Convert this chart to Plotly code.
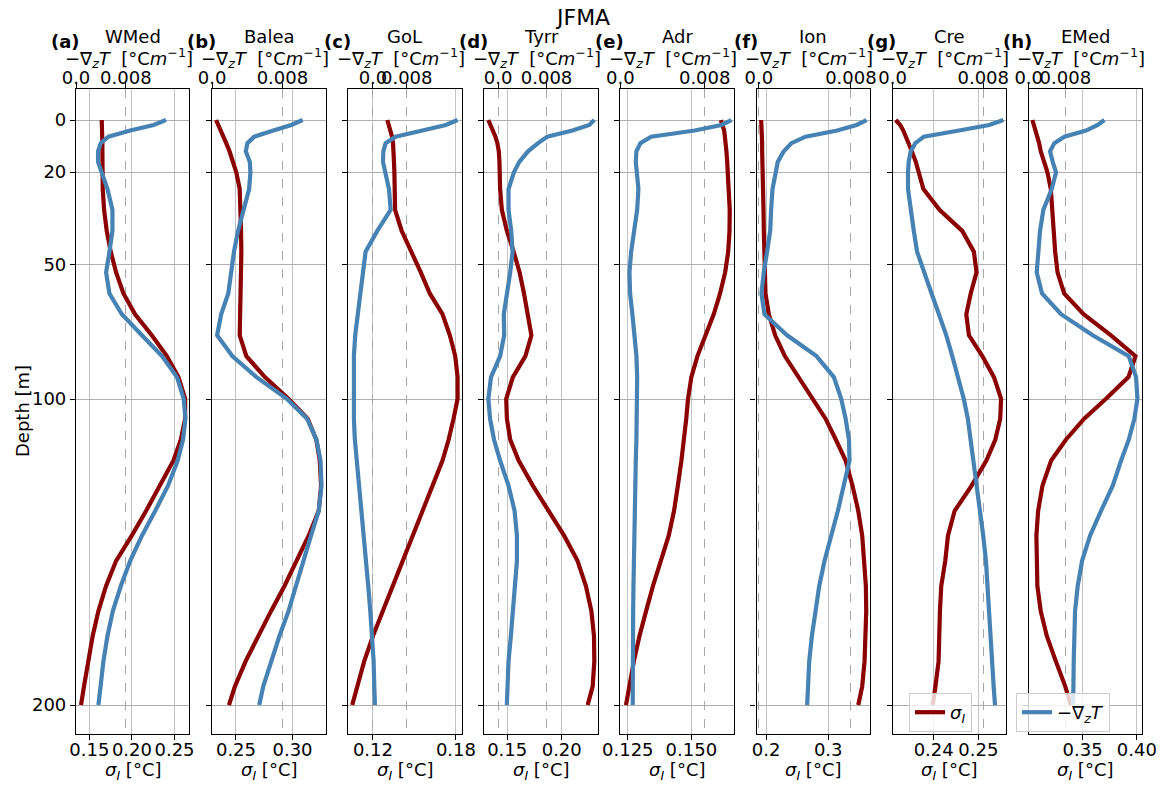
import plotly.graph_objects as go

# the page body adds an 8 px margin; the figure is sized to fill the rest of the window
OFF = 8
W, H = 1164 - OFF, 787 - OFF

# vertical coordinate of the plotted model levels (axis units; 0 = surface, 200 = 200 m)
z_pos = [0, 1.7, 3.6, 5.7, 7.9, 10.7, 14.3, 17.9, 23.6, 30.7, 37.9, 45.0, 52.1, 59.3, 66.4,
         73.6, 80.7, 87.9, 95.3, 102.1, 109.3, 116.4, 125.0, 133.6, 142.1, 150.7, 159.3,
         167.9, 176.4, 185.0, 193.6, 200.0]
depth_tick_pos = [0, 17.8, 49.5, 95.4, 200]
depth_tick_labels = ["0", "20", "50", "100", "200"]

regions = ["WMed", "Balea", "GoL", "Tyrr", "Adr", "Ion", "Cre", "EMed"]
letters = ["a", "b", "c", "d", "e", "f", "g", "h"]

sigma_wmed = [0.1645, 0.1649, 0.1649, 0.1653, 0.1653, 0.1653, 0.1653, 0.1657, 0.1657, 0.1673, 0.1704, 0.1751, 0.1814, 0.1900, 0.2037, 0.2233, 0.2410, 0.2547, 0.2625, 0.2625, 0.2574, 0.2488, 0.2331, 0.2167, 0.1998, 0.1814, 0.1696, 0.1606, 0.1539, 0.1484, 0.1437, 0.1402]
grad_wmed = [0.01444, 0.01246, 0.00870, 0.00521, 0.00397, 0.00354, 0.00354, 0.00413, 0.00505, 0.00585, 0.00585, 0.00537, 0.00483, 0.00537, 0.00736, 0.01058, 0.01380, 0.01621, 0.01729, 0.01756, 0.01718, 0.01632, 0.01477, 0.01272, 0.01058, 0.00870, 0.00719, 0.00591, 0.00505, 0.00440, 0.00387, 0.00360]

sigma_balea = [0.2324, 0.2345, 0.2369, 0.2390, 0.2414, 0.2443, 0.2473, 0.2503, 0.2533, 0.2542, 0.2545, 0.2548, 0.2545, 0.2539, 0.2536, 0.2533, 0.2592, 0.2756, 0.2964, 0.3134, 0.3211, 0.3241, 0.3253, 0.3232, 0.3143, 0.3039, 0.2929, 0.2810, 0.2696, 0.2586, 0.2491, 0.2438]
grad_balea = [0.01030, 0.00900, 0.00697, 0.00479, 0.00402, 0.00383, 0.00429, 0.00436, 0.00421, 0.00360, 0.00295, 0.00249, 0.00218, 0.00184, 0.00103, 0.00057, 0.00230, 0.00505, 0.00850, 0.01080, 0.01187, 0.01233, 0.01244, 0.01213, 0.01125, 0.01041, 0.00965, 0.00869, 0.00766, 0.00670, 0.00582, 0.00536]

sigma_gol = [0.1304, 0.1316, 0.1328, 0.1338, 0.1345, 0.1350, 0.1352, 0.1355, 0.1357, 0.1360, 0.1408, 0.1481, 0.1546, 0.1611, 0.1703, 0.1756, 0.1795, 0.1812, 0.1812, 0.1783, 0.1747, 0.1703, 0.1631, 0.1558, 0.1485, 0.1413, 0.1340, 0.1268, 0.1200, 0.1137, 0.1086, 0.1050]
grad_gol = [0.02004, 0.01727, 0.01172, 0.00539, 0.00301, 0.00246, 0.00238, 0.00285, 0.00380, 0.00420, 0.00103, -0.00174, -0.00238, -0.00309, -0.00380, -0.00420, -0.00451, -0.00459, -0.00467, -0.00451, -0.00428, -0.00380, -0.00333, -0.00277, -0.00222, -0.00166, -0.00111, -0.00063, -0.00016, 0.00016, 0.00032, 0.00048]

sigma_tyrr = [0.1327, 0.1349, 0.1373, 0.1392, 0.1410, 0.1423, 0.1429, 0.1429, 0.1435, 0.1451, 0.1497, 0.1559, 0.1614, 0.1654, 0.1691, 0.1722, 0.1667, 0.1552, 0.1491, 0.1497, 0.1528, 0.1605, 0.1735, 0.1877, 0.2022, 0.2145, 0.2222, 0.2272, 0.2296, 0.2299, 0.2284, 0.2238]
grad_tyrr = [0.01589, 0.01506, 0.01228, 0.00811, 0.00661, 0.00494, 0.00350, 0.00261, 0.00172, 0.00172, 0.00217, 0.00239, 0.00200, 0.00139, 0.00094, 0.00100, 0.00033, -0.00117, -0.00161, -0.00133, -0.00067, 0.00033, 0.00172, 0.00272, 0.00311, 0.00311, 0.00283, 0.00250, 0.00211, 0.00172, 0.00156, 0.00144]

sigma_adr = [0.1616, 0.1624, 0.1629, 0.1632, 0.1636, 0.1638, 0.1641, 0.1643, 0.1649, 0.1651, 0.1650, 0.1645, 0.1633, 0.1613, 0.1588, 0.1557, 0.1524, 0.1500, 0.1487, 0.1480, 0.1471, 0.1461, 0.1447, 0.1432, 0.1411, 0.1378, 0.1349, 0.1322, 0.1296, 0.1274, 0.1257, 0.1243]
grad_adr = [0.01054, 0.00959, 0.00705, 0.00292, 0.00190, 0.00152, 0.00146, 0.00159, 0.00171, 0.00159, 0.00130, 0.00102, 0.00086, 0.00092, 0.00114, 0.00137, 0.00152, 0.00159, 0.00159, 0.00156, 0.00152, 0.00146, 0.00140, 0.00137, 0.00130, 0.00127, 0.00124, 0.00121, 0.00121, 0.00117, 0.00117, 0.00117]

sigma_ion = [0.1919, 0.1925, 0.1925, 0.1930, 0.1935, 0.1935, 0.1941, 0.1946, 0.1952, 0.1957, 0.1962, 0.1968, 0.1978, 0.1989, 0.2043, 0.2145, 0.2301, 0.2527, 0.2758, 0.2957, 0.3124, 0.3280, 0.3392, 0.3484, 0.3548, 0.3586, 0.3607, 0.3613, 0.3607, 0.3586, 0.3548, 0.3484]
grad_ion = [0.00936, 0.00849, 0.00681, 0.00406, 0.00284, 0.00217, 0.00165, 0.00145, 0.00119, 0.00107, 0.00099, 0.00072, 0.00043, 0.00023, 0.00049, 0.00246, 0.00501, 0.00652, 0.00716, 0.00754, 0.00783, 0.00788, 0.00739, 0.00687, 0.00629, 0.00571, 0.00525, 0.00490, 0.00461, 0.00438, 0.00426, 0.00420]

sigma_cre = [0.2315, 0.2325, 0.2332, 0.2338, 0.2344, 0.2351, 0.2360, 0.2366, 0.2377, 0.2413, 0.2464, 0.2490, 0.2496, 0.2483, 0.2473, 0.2479, 0.2509, 0.2535, 0.2551, 0.2549, 0.2538, 0.2518, 0.2485, 0.2447, 0.2432, 0.2426, 0.2417, 0.2414, 0.2413, 0.2411, 0.2404, 0.2398]
grad_cre = [0.00978, 0.00853, 0.00587, 0.00276, 0.00201, 0.00160, 0.00142, 0.00136, 0.00136, 0.00157, 0.00187, 0.00216, 0.00276, 0.00344, 0.00409, 0.00474, 0.00527, 0.00581, 0.00628, 0.00664, 0.00690, 0.00711, 0.00741, 0.00773, 0.00800, 0.00824, 0.00836, 0.00847, 0.00862, 0.00877, 0.00892, 0.00904]

sigma_emed = [0.3037, 0.3052, 0.3068, 0.3083, 0.3099, 0.3114, 0.3142, 0.3176, 0.3207, 0.3219, 0.3228, 0.3247, 0.3269, 0.3330, 0.3509, 0.3762, 0.3988, 0.3923, 0.3716, 0.3515, 0.3346, 0.3210, 0.3130, 0.3090, 0.3074, 0.3074, 0.3083, 0.3114, 0.3170, 0.3253, 0.3340, 0.3392]
grad_emed = [0.01651, 0.01505, 0.01251, 0.00778, 0.00560, 0.00465, 0.00524, 0.00596, 0.00502, 0.00320, 0.00247, 0.00204, 0.00175, 0.00291, 0.00705, 0.01396, 0.02182, 0.02342, 0.02371, 0.02305, 0.02182, 0.02015, 0.01833, 0.01578, 0.01338, 0.01164, 0.01069, 0.01011, 0.00989, 0.00982, 0.00975, 0.00967]

sigma_series = [sigma_wmed, sigma_balea, sigma_gol, sigma_tyrr, sigma_adr, sigma_ion, sigma_cre, sigma_emed]
grad_series = [grad_wmed, grad_balea, grad_gol, grad_tyrr, grad_adr, grad_ion, grad_cre, grad_emed]

# tick labels of the bottom (sigma) axes
sigma_ticks = [
    ["0.15", "0.20", "0.25"],
    ["0.25", "0.30"],
    ["0.12", "0.18"],
    ["0.15", "0.20"],
    ["0.125", "0.150"],
    ["0.2", "0.3"],
    ["0.24", "0.25"],
    ["0.35", "0.40"],
]
grad_ticks = ["0.0", "0.008"]

# axis limits (view windows)
sigma_ranges = [[0.1343, 0.2675], [0.2289, 0.3292], [0.1021, 0.1841], [0.1290, 0.2330],
                [0.1221, 0.1667], [0.1844, 0.3672], [0.2308, 0.2562], [0.3003, 0.4049]]
grad_ranges = [[0, 0.0182], [0, 0.0129], [-0.00586, 0.0210], [-0.00228, 0.01645],
               [0, 0.01076], [-0.0002, 0.00965], [0, 0.01001], [0, 0.02473]]
y_range = [209.9, -10.6]

RED = "#8B0000"
BLUE = "#4682B4"
FONT = "DejaVu Sans"
FS = 18

# layout geometry in window pixels
left0, pitch, pw = 76.0, 136.1, 113.4
top_px, bot_px = 89.0, 734.0


def px(p):
    return (p - OFF) / W


def py(p):
    return 1 - (p - OFF) / H


fig = go.Figure()
layout = dict(
    width=W, height=H,
    margin=dict(l=0, r=0, t=0, b=0, autoexpand=False),
    paper_bgcolor="white", plot_bgcolor="white",
    font=dict(family=FONT, size=FS, color="black"),
    showlegend=True,
)

annotations = []
ydom = [py(bot_px), py(top_px)]

for i in range(8):
    nb = 2 * i + 1
    nt = 2 * i + 2
    ny = i + 1
    xb = "x" if nb == 1 else f"x{nb}"
    xt = f"x{nt}"
    yy = "y" if ny == 1 else f"y{ny}"
    l_px = left0 + pitch * i
    r_px = l_px + pw
    dom = [px(l_px), px(r_px)]
    cx = px((l_px + r_px) / 2)

    fig.add_trace(go.Scatter(
        x=sigma_series[i], y=z_pos, xaxis=xb, yaxis=yy, mode="lines",
        line=dict(color=RED, width=4.2),
        name="<i>σ<sub>I</sub></i>",
        showlegend=(i == 6), legend="legend",
    ))
    fig.add_trace(go.Scatter(
        x=grad_series[i], y=z_pos, xaxis=xt, yaxis=yy, mode="lines",
        line=dict(color=BLUE, width=4.2),
        name="−∇<sub><i>z</i></sub><i>T</i>",
        showlegend=(i == 7), legend="legend2",
    ))

    sv = [float(t) for t in sigma_ticks[i]]
    layout["xaxis" if nb == 1 else f"xaxis{nb}"] = dict(
        domain=dom, anchor=yy, side="bottom", range=sigma_ranges[i], automargin=False,
        tickmode="array", tickvals=sv, ticktext=sigma_ticks[i], tickangle=0,
        ticks="outside", ticklen=5, tickwidth=1.1, tickcolor="black", ticklabelstandoff=-6,
        showline=True, linecolor="black", linewidth=1.2, mirror=True,
        showgrid=True, gridcolor="#c4c4c4", gridwidth=1.3, zeroline=False,
        tickfont=dict(size=FS, family=FONT, color="black"),
    )
    layout[f"xaxis{nt}"] = dict(
        overlaying=xb, anchor=yy, side="top", range=grad_ranges[i], automargin=False,
        tickmode="array", tickvals=[0.0, 0.008], ticktext=grad_ticks, tickangle=0,
        ticks="outside", ticklen=5, tickwidth=1.1, tickcolor="black", ticklabelstandoff=-8,
        showline=False, showgrid=True, gridcolor="#a8a8a8", gridwidth=0.9,
        griddash="dash", zeroline=False,
        tickfont=dict(size=FS, family=FONT, color="black"),
    )
    layout["yaxis" if ny == 1 else f"yaxis{ny}"] = dict(
        domain=ydom, anchor=xb, range=y_range, autorange=False, automargin=False,
        tickmode="array", tickvals=depth_tick_pos, ticktext=depth_tick_labels,
        showticklabels=(i == 0),
        ticks="outside", ticklen=5, tickwidth=1.1, tickcolor="black",
        showline=True, linecolor="black", linewidth=1.2, mirror=True,
        showgrid=True, gridcolor="#b0b0b0", gridwidth=1.0, zeroline=False,
        tickfont=dict(size=FS, family=FONT, color="black"),
        **({} if i == 0 else {"matches": "y"}),
    )

    annotations.append(dict(text=regions[i], x=cx, y=py(36), xref="paper", yref="paper",
                            showarrow=False, xanchor="center", yanchor="middle",
                            font=dict(size=FS, family=FONT, color="black")))
    annotations.append(dict(text=f"<b>({letters[i]})</b>", x=px(l_px - 11), y=py(42),
                            xref="paper", yref="paper", showarrow=False,
                            xanchor="center", yanchor="middle",
                            font=dict(size=FS, family=FONT, color="black")))
    annotations.append(dict(text="−∇<sub><i>z</i></sub><i>T</i>  [°C<i>m</i><sup>−1</sup>]",
                            x=cx - 4 / W, y=py(58), xref="paper", yref="paper",
                            showarrow=False, xanchor="center", yanchor="middle",
                            font=dict(size=FS, family=FONT, color="black")))
    annotations.append(dict(text="<i>σ<sub>I</sub></i> [°C]", x=cx, y=py(771),
                            xref="paper", yref="paper", showarrow=False,
                            xanchor="center", yanchor="middle",
                            font=dict(size=FS, family=FONT, color="black")))

annotations.append(dict(text="JFMA", x=px(582), y=py(18), xref="paper", yref="paper",
                        showarrow=False, xanchor="center", yanchor="middle",
                        font=dict(size=22, family=FONT, color="black")))
annotations.append(dict(text="Depth [m]", x=px(22), y=py(411), xref="paper", yref="paper",
                        showarrow=False, xanchor="center", yanchor="middle", textangle=-90,
                        font=dict(size=FS, family=FONT, color="black")))

layout["annotations"] = annotations
layout["legend"] = dict(x=px(909), y=py(693), xanchor="left", yanchor="top",
                        bgcolor="rgba(255,255,255,0.8)", bordercolor="#cccccc", borderwidth=1,
                        font=dict(size=FS, family=FONT, color="black"))
layout["legend2"] = dict(x=px(1016), y=py(693), xanchor="left", yanchor="top",
                         bgcolor="rgba(255,255,255,0.8)", bordercolor="#cccccc", borderwidth=1,
                         font=dict(size=FS, family=FONT, color="black"))

fig.update_layout(**layout)
fig.write_html("out.html")
